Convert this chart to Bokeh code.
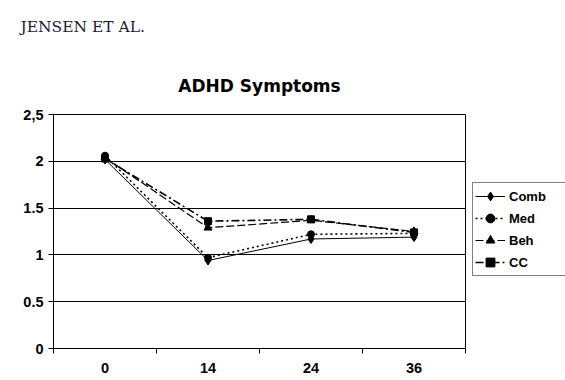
from bokeh.plotting import figure
from bokeh.models import (FixedTicker, Range1d, Legend, LegendItem, Title)
from bokeh.embed import file_html
from bokeh.resources import INLINE

# ---- data ----
months = ["0", "14", "24", "36"]
comb = [2.02, 0.94, 1.17, 1.19]
med = [2.06, 0.97, 1.22, 1.23]
beh = [2.04, 1.29, 1.37, 1.25]
cc = [2.03, 1.36, 1.38, 1.24]
y_ticks = [0, 0.5, 1, 1.5, 2, 2.5]
y_labels = ["0", "0.5", "1", "1.5", "2", "2,5"]
header_text = "JENSEN ET AL."
title_text = "ADHD Symptoms"

FONT = "Liberation Sans"
xs = [i + 0.5 for i in range(len(months))]

p = figure(width=565, height=380, output_backend="svg", toolbar_location=None,
           x_range=Range1d(0, len(months)), y_range=Range1d(0, 2.5),
           min_border_left=53, min_border_right=100, min_border_top=114,
           min_border_bottom=32, frame_width=412, frame_height=234,
           title=header_text)
p.outline_line_color = "black"
p.outline_line_width = 1
p.background_fill_color = "white"
p.border_fill_color = "white"

# titles
p.title.align = "left"
p.title.offset = -33
p.title.text_font = "DejaVu Serif"
p.title.text_font_style = "normal"
p.title.text_font_size = "15.5px"
p.title.text_color = "#1a1a33"
p.title.standoff = 34
p.title.vertical_align = "top"
main_title = Title(text=title_text, align="center",
                   text_font="DejaVu Sans", text_font_style="bold",
                   text_font_size="17px", text_color="black", standoff=38)
p.add_layout(main_title, "above")

# grid
p.xgrid.visible = False
p.ygrid.ticker = FixedTicker(ticks=y_ticks)
p.ygrid.grid_line_color = "black"
p.ygrid.grid_line_width = 1

# y axis
p.yaxis.ticker = FixedTicker(ticks=y_ticks)
p.yaxis.major_label_overrides = {t: l for t, l in zip(y_ticks, y_labels)}
p.yaxis.major_tick_out = 5
p.yaxis.major_tick_in = 0
p.yaxis.minor_tick_out = 0
p.yaxis.major_label_standoff = 5
p.yaxis.axis_line_color = "black"
p.yaxis.major_label_text_font = FONT
p.yaxis.major_label_text_font_style = "bold"
p.yaxis.major_label_text_font_size = "14.5px"
p.yaxis.major_label_text_color = "black"

# x axis
p.xaxis.ticker = FixedTicker(ticks=xs, minor_ticks=list(range(len(months) + 1)))
p.xaxis.major_label_overrides = {x: m for x, m in zip(xs, months)}
p.xaxis.major_tick_out = 0
p.xaxis.major_tick_in = 0
p.xaxis.minor_tick_out = 5
p.xaxis.minor_tick_in = 0
p.xaxis.minor_tick_line_color = "black"
p.xaxis.major_label_standoff = 9
p.xaxis.axis_line_color = "black"
p.xaxis.major_label_text_font = FONT
p.xaxis.major_label_text_font_style = "bold"
p.xaxis.major_label_text_font_size = "14.5px"
p.xaxis.major_label_text_color = "black"

# series
l1 = p.line(xs, comb, line_color="black", line_width=1)
s1 = p.scatter(xs, comb, marker="diamond", size=9, color="black")
l2 = p.line(xs, med, line_color="black", line_width=1.6, line_dash="2 3")
s2 = p.scatter(xs, med, marker="circle", size=7, color="black")
l3 = p.line(xs, beh, line_color="black", line_width=1.2, line_dash="8 3")
s3 = p.scatter(xs, beh, marker="triangle", size=8, color="black")
l4 = p.line(xs, cc, line_color="black", line_width=1.6, line_dash="8 3 2 3")
s4 = p.scatter(xs, cc, marker="square", size=7, color="black")

legend = Legend(items=[
    LegendItem(label="Comb", renderers=[l1, s1]),
    LegendItem(label="Med", renderers=[l2, s2]),
    LegendItem(label="Beh", renderers=[l3, s3]),
    LegendItem(label="CC", renderers=[l4, s4]),
], location=(7, 72))
legend.border_line_color = "black"
legend.border_line_width = 1
legend.background_fill_color = "white"
legend.background_fill_alpha = 1
legend.label_text_font = FONT
legend.label_text_font_style = "bold"
legend.label_text_font_size = "13px"
legend.label_text_color = "black"
legend.glyph_width = 30
legend.glyph_height = 22
legend.label_height = 22
legend.label_width = 55
legend.label_standoff = 4
legend.padding = 2
legend.spacing = 0
legend.margin = 0
p.add_layout(legend, "right")

open("out.html", "w").write(file_html(p, INLINE))
